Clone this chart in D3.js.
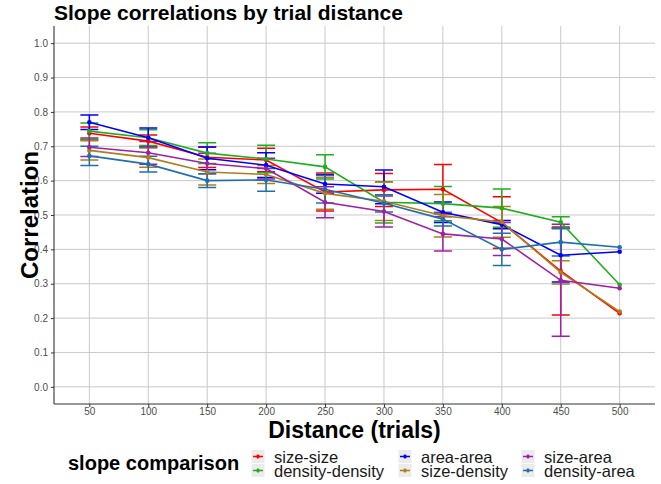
<!DOCTYPE html>
<html>
<head>
<meta charset="utf-8">
<script src="https://cdn.jsdelivr.net/npm/d3@7"></script>
<style>
  body { margin: 0; background: #fff; }
  svg { display: block; font-family: "Liberation Sans", Arial, sans-serif; }
</style>
</head>
<body>
<svg width="661" height="484"></svg>
<script>
// distances on the x axis
const distances = [50, 100, 150, 200, 250, 300, 350, 400, 450, 500];
const yTicks = [0, 0.1, 0.2, 0.3, 0.4, 0.5, 0.6, 0.7, 0.8, 0.9, 1.0];

const comparisons = ["size-size", "density-density", "area-area", "size-density", "size-area", "density-area"];
const colors = ["#ff0000", "#1fae1f", "#0000ff", "#b07d1a", "#a01fa6", "#1f6fb0"];

// mean correlation per comparison
const sizeSize       = [0.738, 0.715, 0.668, 0.660, 0.567, 0.573, 0.575, 0.478, 0.337, 0.214];
const densityDensity = [0.744, 0.725, 0.680, 0.663, 0.640, 0.537, 0.533, 0.520, 0.479, 0.297];
const areaArea       = [0.770, 0.725, 0.665, 0.645, 0.590, 0.582, 0.508, 0.472, 0.383, 0.393];
const sizeDensity    = [0.688, 0.667, 0.625, 0.618, 0.563, 0.540, 0.498, 0.480, 0.333, 0.219];
const sizeArea       = [0.697, 0.681, 0.650, 0.635, 0.537, 0.510, 0.445, 0.430, 0.310, 0.287];
const densityArea    = [0.672, 0.648, 0.600, 0.602, 0.575, 0.534, 0.488, 0.400, 0.421, 0.406];

// half width of the error bars (none at 500)
const errSizeSize       = [0.018, 0.018, 0.030, 0.034, 0.055, 0.048, 0.072, 0.075, 0.128, null];
const errDensityDensity = [0.024, 0.023, 0.030, 0.040, 0.035, 0.060, 0.050, 0.056, 0.016, null];
const errAreaArea       = [0.021, 0.028, 0.033, 0.036, 0.027, 0.049, 0.030, 0.012, 0.078, null];
const errSizeDensity    = [0.028, 0.028, 0.038, 0.026, 0.046, 0.056, 0.062, 0.045, 0.034, null];
const errSizeArea       = [0.027, 0.033, 0.030, 0.030, 0.045, 0.045, 0.050, 0.048, 0.163, null];
const errDensityArea    = [0.028, 0.023, 0.020, 0.033, 0.040, 0.025, 0.020, 0.047, 0.040, null];

const means = [sizeSize, densityDensity, areaArea, sizeDensity, sizeArea, densityArea];
const errs = [errSizeSize, errDensityDensity, errAreaArea, errSizeDensity, errSizeArea, errDensityArea];

const series = comparisons.map((name, i) => ({
  name: name,
  color: colors[i],
  values: distances.map((d, j) => ({ d: d, v: means[i][j], e: errs[i][j] }))
}));

const svg = d3.select("svg");
const panel = { left: 54, right: 655, top: 26, bottom: 404 };

const x = d3.scalePoint()
  .domain(distances)
  .range([panel.left, panel.right])
  .padding(0.6);

const y = d3.scaleLinear()
  .domain([-0.05, 1.05])
  .range([panel.bottom, panel.top]);

// grid
const grid = svg.append("g");
grid.selectAll(".gy").data(yTicks).join("line")
  .attr("x1", panel.left).attr("x2", panel.right)
  .attr("y1", d => y(d)).attr("y2", d => y(d))
  .attr("stroke", "#c9c9c9").attr("stroke-width", 1);
grid.selectAll(".gx").data(distances).join("line")
  .attr("x1", d => x(d)).attr("x2", d => x(d))
  .attr("y1", panel.top).attr("y2", panel.bottom)
  .attr("stroke", "#c9c9c9").attr("stroke-width", 1);

// axes
const yAxis = svg.append("g")
  .attr("transform", `translate(${panel.left},0)`)
  .call(d3.axisLeft(y).tickValues(yTicks).tickFormat(d3.format(".1f")).tickSize(3));
const xAxis = svg.append("g")
  .attr("transform", `translate(0,${panel.bottom})`)
  .call(d3.axisBottom(x).tickSize(3).tickPadding(1));
[xAxis, yAxis].forEach(g => {
  g.select(".domain").attr("stroke", "#333").attr("stroke-width", 1.1);
  g.selectAll(".tick line").attr("stroke", "#333");
  g.selectAll(".tick text").attr("fill", "#4d4d4d").style("font-size", "10px");
});
yAxis.select(".domain").attr("d", `M0,${panel.bottom}V${panel.top}`);
xAxis.select(".domain").attr("d", `M${panel.left},0H${panel.right}`);

// error bars
const capHalf = 9;
series.forEach(s => {
  const g = svg.append("g").attr("stroke", s.color).attr("stroke-width", 1.5).attr("fill", "none");
  const ev = s.values.filter(p => p.e != null);
  g.selectAll(".bar").data(ev).join("path")
    .attr("d", p => `M${x(p.d)},${y(p.v + p.e)}V${y(p.v - p.e)}` +
      `M${x(p.d) - capHalf},${y(p.v + p.e)}H${x(p.d) + capHalf}` +
      `M${x(p.d) - capHalf},${y(p.v - p.e)}H${x(p.d) + capHalf}`);
});

// lines + points
const line = d3.line().x(p => x(p.d)).y(p => y(p.v));
series.forEach(s => {
  svg.append("path").datum(s.values)
    .attr("d", line)
    .attr("fill", "none")
    .attr("stroke", s.color)
    .attr("stroke-width", 1.6);
  svg.append("g").selectAll("circle").data(s.values).join("circle")
    .attr("cx", p => x(p.d)).attr("cy", p => y(p.v))
    .attr("r", 2.3).attr("fill", s.color);
});

// titles
svg.append("text")
  .attr("x", panel.left).attr("y", 20)
  .style("font-size", "21px").style("font-weight", "bold")
  .text("Slope correlations by trial distance");

svg.append("text")
  .attr("transform", `translate(38,${(panel.top + panel.bottom) / 2}) rotate(-90)`)
  .attr("text-anchor", "middle")
  .style("font-size", "24px").style("font-weight", "bold")
  .text("Correlation");

svg.append("text")
  .attr("x", (panel.left + panel.right) / 2).attr("y", 437.5)
  .attr("text-anchor", "middle")
  .style("font-size", "23px").style("font-weight", "bold")
  .text("Distance (trials)");

// legend
const legend = svg.append("g");
legend.append("text")
  .attr("x", 68).attr("y", 470)
  .style("font-size", "20px").style("font-weight", "bold")
  .text("slope comparison");

const colX = [258, 405, 528];
const rowY = [456.5, 470.5];
series.forEach((s, i) => {
  const cx = colX[Math.floor(i / 2)];
  const cy = rowY[i % 2];
  const k = legend.append("g").attr("transform", `translate(${cx},${cy})`);
  k.append("rect").attr("x", -6.5).attr("y", -6.5).attr("width", 13).attr("height", 13).attr("fill", "#ebebeb");
  k.append("line").attr("x1", -5).attr("x2", 5).attr("stroke", s.color).attr("stroke-width", 1.5);
  k.append("line").attr("y1", -2).attr("y2", 2).attr("stroke", s.color).attr("stroke-width", 1.5);
  k.append("circle").attr("r", 1.8).attr("fill", s.color);
  k.append("text").attr("x", 16).attr("y", 6)
    .style("font-size", "16.5px").attr("fill", "#1a1a1a")
    .text(s.name);
});
</script>
</body>
</html>
